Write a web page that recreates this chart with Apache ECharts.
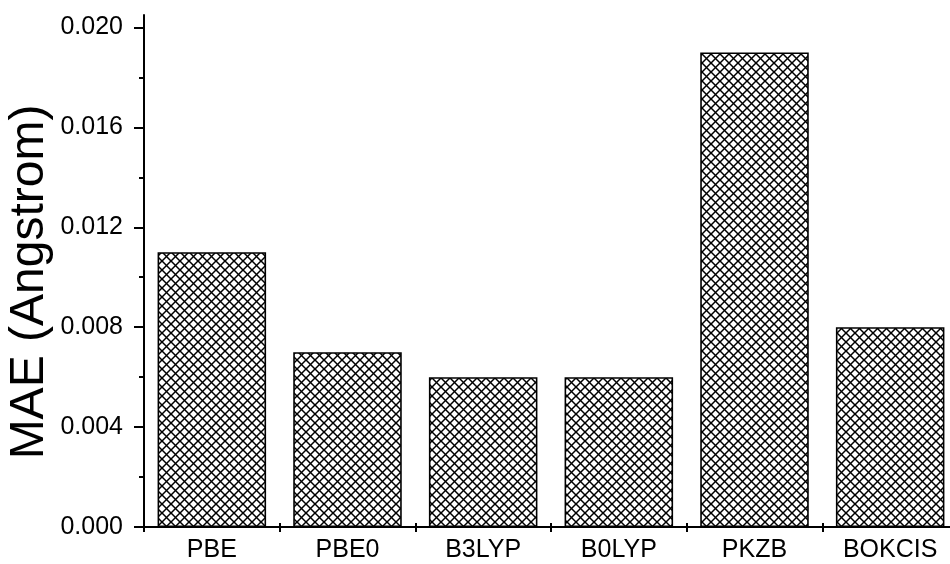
<!DOCTYPE html>
<html>
<head>
<meta charset="utf-8">
<script src="https://cdn.jsdelivr.net/npm/echarts@6/dist/echarts.min.js"></script>
<style>
html,body{margin:0;padding:0;background:#fff;}
#chart{width:950px;height:564px;}
</style>
</head>
<body>
<div id="chart"></div>
<script>
const categories = ['PBE', 'PBE0', 'B3LYP', 'B0LYP', 'PKZB', 'BOKCIS'];
const maeValues = [0.011, 0.007, 0.006, 0.006, 0.019, 0.008];
const yMajorTicks = [0, 0.004, 0.008, 0.012, 0.016, 0.020];
const yMinorTicks = [0.002, 0.006, 0.010, 0.014, 0.018];
const yTitle = 'MAE (Angstrom)';

function makeHatch() {
  const s = 9;
  const c = document.createElement('canvas');
  c.width = s; c.height = s;
  const ctx = c.getContext('2d');
  ctx.fillStyle = '#fff';
  ctx.fillRect(0, 0, s, s);
  ctx.strokeStyle = '#000';
  ctx.lineWidth = 1.5;
  for (let k = -1; k <= 1; k++) {
    const x0 = k * s;
    ctx.beginPath();
    ctx.moveTo(x0 - 1, -1); ctx.lineTo(x0 + s + 1, s + 1);
    ctx.stroke();
    ctx.beginPath();
    ctx.moveTo(x0 - 1, s + 1); ctx.lineTo(x0 + s + 1, -1);
    ctx.stroke();
  }
  return c;
}

const font = 'Liberation Sans, Arial, sans-serif';
const chart = echarts.init(document.getElementById('chart'), null, {renderer: 'canvas'});
chart.setOption({
  animation: false,
  backgroundColor: '#fff',
  grid: {left: 144, top: 15, width: 814, height: 512, containLabel: false, outerBoundsMode: 'none'},
  xAxis: [{
    type: 'category',
    data: categories,
    boundaryGap: true,
    axisLine: {lineStyle: {color: '#000', width: 2}},
    axisTick: {show: true, inside: false, length: 5, lineStyle: {color: '#000', width: 2}},
    axisLabel: {color: '#000', fontSize: 25, fontFamily: font, margin: 11},
    splitLine: {show: false}
  }, {
    type: 'category',
    data: categories,
    position: 'bottom',
    boundaryGap: true,
    axisLine: {show: false},
    axisTick: {show: true, inside: true, length: 4, lineStyle: {color: '#000', width: 2}},
    axisLabel: {show: false},
    splitLine: {show: false}
  }],
  yAxis: [{
    type: 'value',
    min: 0,
    max: 0.0205,
    name: yTitle,
    nameLocation: 'middle',
    nameGap: 90,
    nameMoveOverlap: false,
    nameTextStyle: {color: '#000', fontSize: 48, fontFamily: font, padding: [0, 22, 0, 0]},
    axisLine: {show: true, lineStyle: {color: '#000', width: 2}},
    axisTick: {show: true, length: 10, customValues: yMajorTicks, lineStyle: {color: '#000', width: 2}},
    axisLabel: {color: '#000', fontSize: 25, fontFamily: font, margin: 21, customValues: yMajorTicks,
      formatter: v => v.toFixed(3)},
    splitLine: {show: false}
  }, {
    type: 'value',
    min: 0,
    max: 0.0205,
    position: 'left',
    axisLine: {show: false},
    axisTick: {show: true, length: 5, customValues: yMinorTicks, lineStyle: {color: '#000', width: 2}},
    axisLabel: {show: false},
    splitLine: {show: false}
  }],
  series: [{
    type: 'bar',
    data: maeValues,
    barWidth: '80%',
    itemStyle: {
      color: {image: makeHatch(), repeat: 'repeat'},
      borderColor: '#000',
      borderWidth: 1.6
    }
  }]
});
</script>
</body>
</html>
